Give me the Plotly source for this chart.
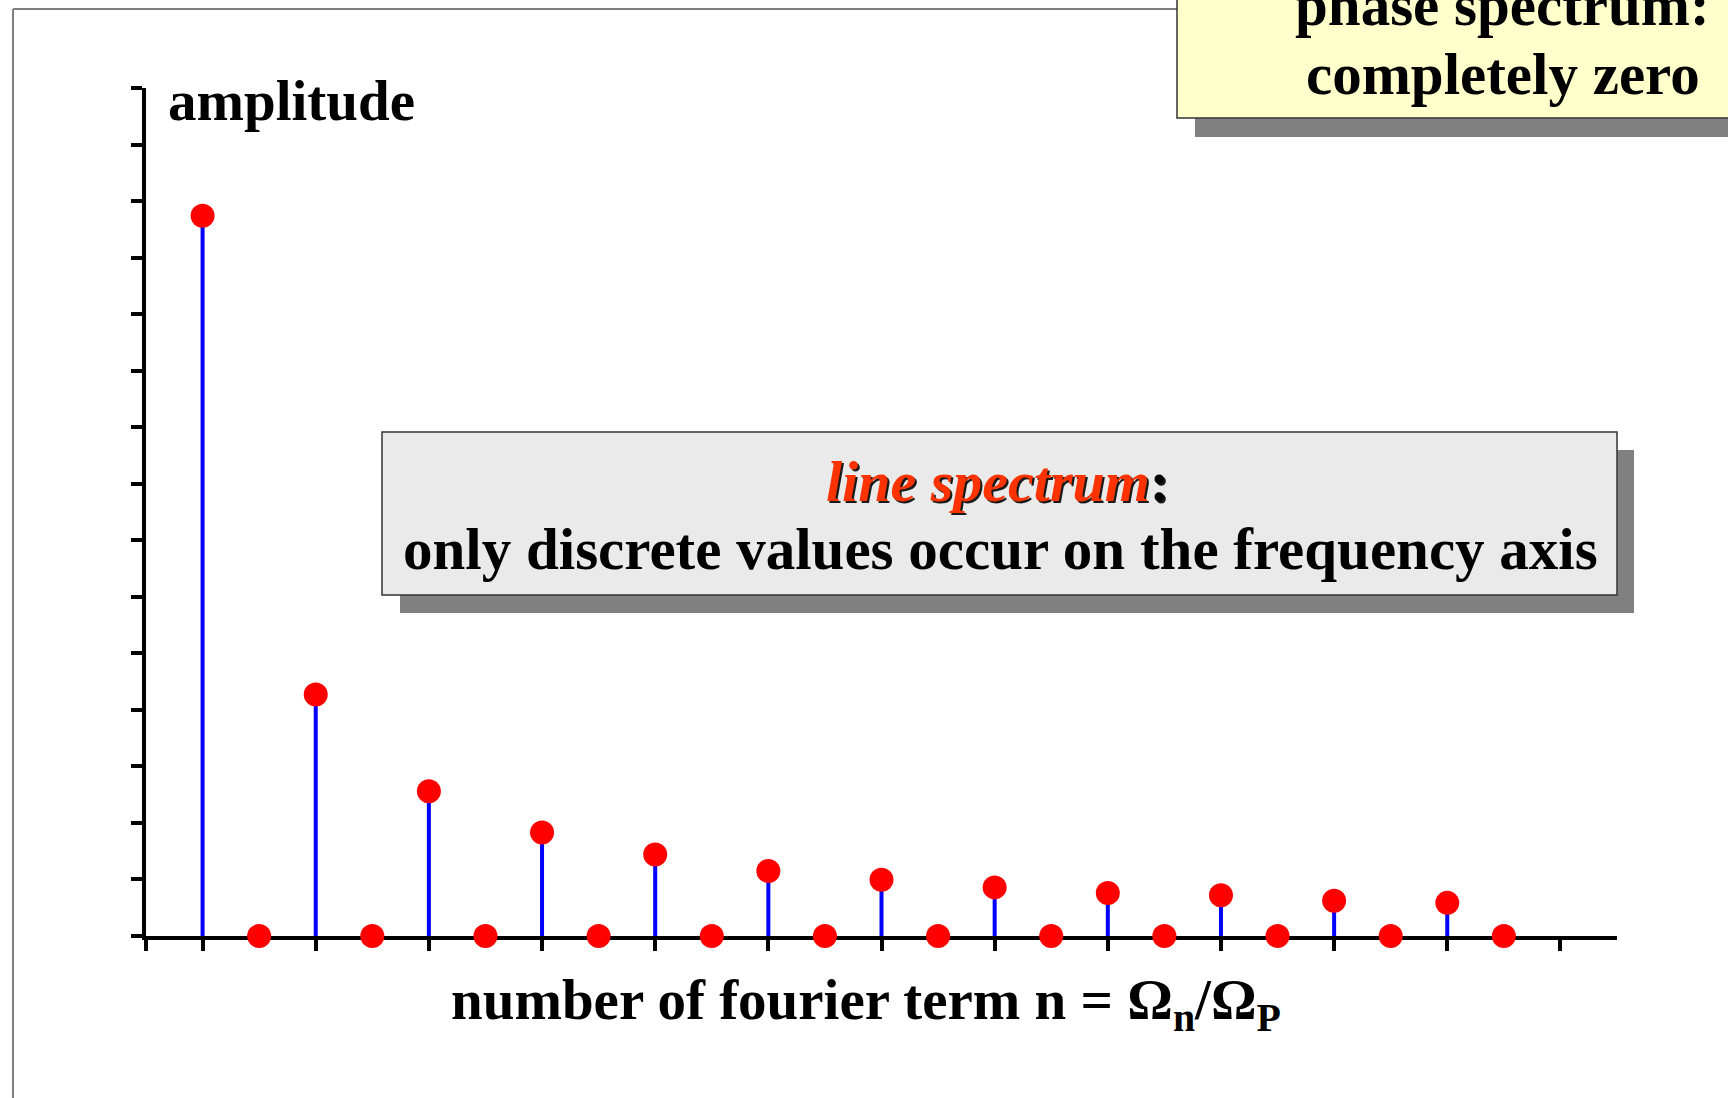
import plotly.graph_objects as go

# ---- data ----
harmonic_n = [1, 2, 3, 4, 5, 6, 7, 8, 9, 10, 11, 12,
              13, 14, 15, 16, 17, 18, 19, 20, 21, 22, 23, 24]
amplitude = [1.274, 0.0, 0.427, 0.0, 0.256, 0.0, 0.183, 0.0, 0.144, 0.0, 0.115, 0.0,
             0.0995, 0.0, 0.086, 0.0, 0.076, 0.0, 0.072, 0.0, 0.0625, 0.0, 0.0586, 0.0]
x_tick_vals = [0, 1, 3, 5, 7, 9, 11, 13, 15, 17, 19, 21, 23, 25]
y_tick_vals = [0, 0.1, 0.2, 0.3, 0.4, 0.5, 0.6, 0.7, 0.8, 0.9, 1.0,
               1.1, 1.2, 1.3, 1.4, 1.5]
x_range = [0, 26]
y_range = [0, 1.5]

# ---- layout geometry (pixels) ----
W, H = 1728, 1098
L, R, T, B = 146, 111, 88, 162
PW, PH = W - L - R, H - T - B


def xp(X):
    return (X - L) / PW


def yp(Y):
    return (H - B - Y) / PH


# stems built from data
stem_x, stem_y = [], []
for n, a in zip(harmonic_n, amplitude):
    if a > 0:
        stem_x += [n, n, None]
        stem_y += [0, a, None]

fig = go.Figure()
fig.add_trace(go.Scatter(x=stem_x, y=stem_y, mode="lines",
                         line=dict(color="#0000FF", width=4),
                         hoverinfo="skip", showlegend=False, cliponaxis=False))
fig.add_trace(go.Scatter(x=harmonic_n, y=amplitude, mode="markers",
                         marker=dict(color="#FF0000", size=24, line=dict(width=0)),
                         showlegend=False, cliponaxis=False))

SERIF = "Liberation Serif, Times New Roman, serif"

shapes = [
    # outer frame
    dict(type="line", xref="paper", yref="paper", x0=xp(13), x1=xp(1177), y0=yp(9), y1=yp(9),
         line=dict(color="#7F7F7F", width=2)),
    dict(type="line", xref="paper", yref="paper", x0=xp(13), x1=xp(13), y0=yp(9), y1=yp(1110),
         line=dict(color="#7F7F7F", width=2)),
    # gray box shadow + box
    dict(type="rect", xref="paper", yref="paper", x0=xp(400), x1=xp(1634), y0=yp(450), y1=yp(613),
         fillcolor="#808080", line=dict(width=0)),
    dict(type="rect", xref="paper", yref="paper", x0=xp(382), x1=xp(1617), y0=yp(432), y1=yp(595),
         fillcolor="#EAEAEA", line=dict(color="#333333", width=1.5)),
    # yellow box shadow + box
    dict(type="rect", xref="paper", yref="paper", x0=xp(1195), x1=xp(1760), y0=yp(-30), y1=yp(137),
         fillcolor="#808080", line=dict(width=0)),
    dict(type="rect", xref="paper", yref="paper", x0=xp(1177), x1=xp(1745), y0=yp(-50), y1=yp(118),
         fillcolor="#FFFFCC", line=dict(color="#333333", width=1.5)),
]

annotations = [
    dict(text="<b>amplitude</b>", xref="paper", yref="paper", x=xp(166), y=yp(67),
         xanchor="left", yanchor="top", showarrow=False,
         font=dict(family=SERIF, size=57, color="black")),
    dict(text="<b>number of fourier term n = Ω<sub>n</sub>/Ω<sub>P</sub></b>",
         xref="paper", yref="paper", x=xp(866), y=yp(966),
         xanchor="center", yanchor="top", showarrow=False,
         font=dict(family=SERIF, size=57, color="black")),
    # text shadow for "line spectrum:"
    dict(text="<b><i>line spectrum</i>:</b>", xref="paper", yref="paper",
         x=xp(997), y=yp(447), xanchor="center", yanchor="top", showarrow=False,
         xshift=2, yshift=-2,
         font=dict(family=SERIF, size=58, color="#1A1A1A")),
    dict(text="<b><i><span style='color:#FF3300'>line spectrum</span></i>:</b>",
         xref="paper", yref="paper",
         x=xp(997), y=yp(447), xanchor="center", yanchor="top", showarrow=False,
         font=dict(family=SERIF, size=58, color="black")),
    dict(text="<b>only discrete values occur on the frequency axis</b>",
         xref="paper", yref="paper", x=xp(1000), y=yp(514),
         xanchor="center", yanchor="top", showarrow=False,
         font=dict(family=SERIF, size=59, color="black")),
    dict(text="<b>phase spectrum:</b>", xref="paper", yref="paper", x=xp(1502), y=yp(-30),
         xanchor="center", yanchor="top", showarrow=False,
         font=dict(family=SERIF, size=59, color="black")),
    dict(text="<b>completely zero</b>", xref="paper", yref="paper", x=xp(1503), y=yp(39),
         xanchor="center", yanchor="top", showarrow=False,
         font=dict(family=SERIF, size=59, color="black")),
]

fig.update_layout(
    width=W, height=H,
    margin=dict(l=L, r=R, t=T, b=B, pad=0),
    paper_bgcolor="white", plot_bgcolor="white",
    showlegend=False,
    shapes=shapes,
    annotations=annotations,
    xaxis=dict(range=x_range, showgrid=False, zeroline=False, showline=True,
               linecolor="black", linewidth=4, ticks="outside", ticklen=11,
               tickwidth=4, tickcolor="black", tickvals=x_tick_vals,
               showticklabels=False, layer="below traces", fixedrange=True),
    yaxis=dict(range=y_range, showgrid=False, zeroline=False, showline=True,
               linecolor="black", linewidth=4, ticks="outside", ticklen=11,
               tickwidth=4, tickcolor="black", tickvals=y_tick_vals,
               showticklabels=False, layer="below traces", fixedrange=True),
)

fig.write_html("out.html",
               config={"displayModeBar": False},
               post_script="document.body.style.margin='0';document.body.style.overflow='hidden';")
